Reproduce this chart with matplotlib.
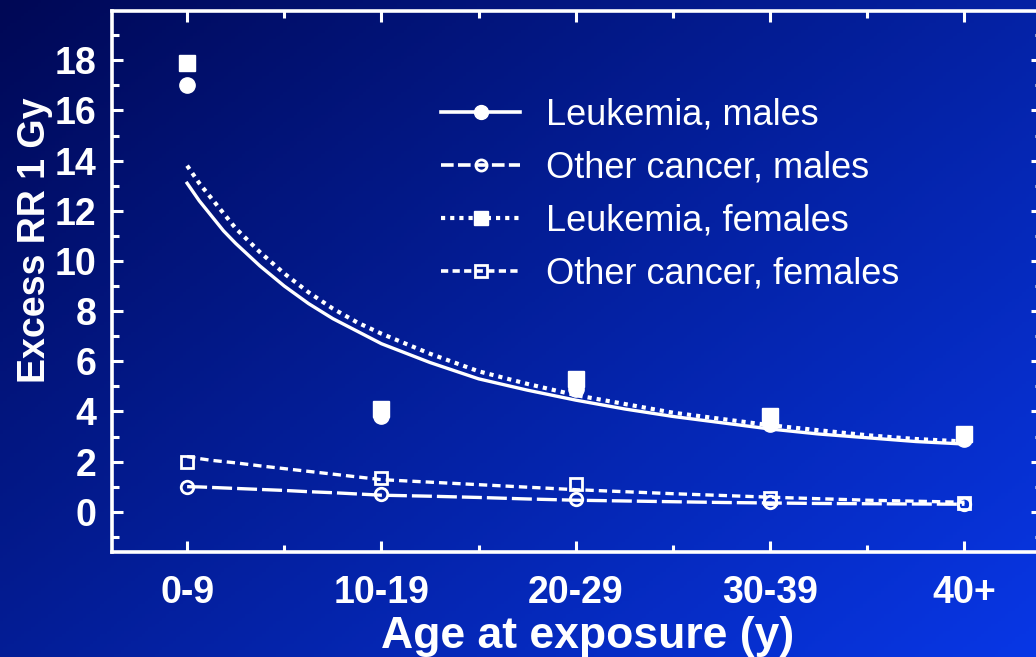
import numpy as np
import matplotlib
matplotlib.use("Agg")
from matplotlib import pyplot as plt
from matplotlib.lines import Line2D
from matplotlib.ticker import MultipleLocator

# categories and values
age_groups = ['0-9', '10-19', '20-29', '30-39', '40+']
obs_x = [0, 1, 2, 3, 4]

# observed points
leuk_m_obs = [17.0, 3.8, 4.9, 3.5, 2.9]
leuk_f_obs = [17.9, 4.1, 5.3, 3.8, 3.1]
other_m_obs = [1.0, 0.7, 0.5, 0.4, 0.3]
other_f_obs = [2.0, 1.35, 1.1, 0.55, 0.35]

# fitted curves, read at these positions
curve_x = [0, 0.0625, 0.125, 0.1875, 0.25, 0.375, 0.5, 0.625, 0.75, 0.875, 1,
           1.25, 1.5, 1.75, 2, 2.25, 2.5, 2.75, 3, 3.25, 3.5, 3.75, 4]
leuk_m_fit = [13.1, 12.4, 11.8, 11.2, 10.7, 9.8, 9.0, 8.3, 7.7, 7.2, 6.7,
              5.95, 5.3, 4.85, 4.45, 4.1, 3.8, 3.55, 3.3, 3.1, 2.95, 2.8, 2.7]
leuk_f_fit = [13.8, 13.1, 12.5, 11.9, 11.3, 10.35, 9.5, 8.75, 8.1, 7.55, 7.1,
              6.3, 5.6, 5.1, 4.65, 4.3, 3.95, 3.7, 3.45, 3.25, 3.05, 2.9, 2.8]
other_m_fit = [1.0, 0.99, 0.97, 0.95, 0.93, 0.89, 0.85, 0.8, 0.76, 0.71, 0.66,
               0.62, 0.57, 0.51, 0.46, 0.43, 0.4, 0.37, 0.35, 0.33, 0.32, 0.31, 0.3]
other_f_fit = [2.2, 2.12, 2.05, 2.0, 1.95, 1.83, 1.72, 1.61, 1.5, 1.39, 1.28,
               1.18, 1.08, 0.98, 0.88, 0.8, 0.72, 0.65, 0.58, 0.52, 0.46, 0.42, 0.38]

labels = ['Leukemia, males', 'Other cancer, males',
          'Leukemia, females', 'Other cancer, females']

W = 'white'
fig = plt.figure(figsize=(10.36, 6.57), dpi=100)

# blue gradient background
bg = fig.add_axes([0, 0, 1, 1], zorder=-10)
gx, gy = np.meshgrid(np.linspace(0, 1, 300), np.linspace(0, 1, 200))
t = (gx * 0.55 + gy * 0.45)
c0 = np.array([0, 8, 85]) / 255
c1 = np.array([8, 55, 230]) / 255
img = c0[None, None, :] + (c1 - c0)[None, None, :] * t[:, :, None]
bg.imshow(img, aspect='auto', extent=[0, 1, 1, 0])
bg.axis('off')

ax = fig.add_axes([0.108, 0.160, 0.898, 0.823])
ax.patch.set_alpha(0)

# fitted lines
ax.plot(curve_x, leuk_m_fit, color=W, lw=2.4, ls='-')
ax.plot(curve_x, leuk_f_fit, color=W, lw=3, ls=(0, (1, 1.2)))
ax.plot(curve_x, other_m_fit, color=W, lw=2.4, ls=(0, (6, 1.5)))
ax.plot(curve_x, other_f_fit, color=W, lw=2.4, ls=(0, (2.5, 1.5)))

# observed points
ax.plot(obs_x, leuk_f_obs, 's', color=W, ms=11, ls='none')
ax.plot(obs_x, leuk_m_obs, 'o', color=W, ms=11, ls='none')
ax.plot(obs_x, other_f_obs, 's', mfc='none', mec=W, mew=2, ms=9, ls='none')
ax.plot(obs_x, other_m_obs, 'o', mfc='none', mec=W, mew=2, ms=9, ls='none')

ax.set_xlim(-0.387, 4.4)
ax.set_ylim(-1.6, 19.96)
ax.set_xticks(obs_x)
ax.set_xticklabels(age_groups)
ax.set_yticks(range(0, 19, 2))
ax.xaxis.set_minor_locator(MultipleLocator(0.5))
ax.yaxis.set_minor_locator(MultipleLocator(1))

for s in ax.spines.values():
    s.set_color(W)
    s.set_linewidth(2.6)
ax.tick_params(which='both', direction='in', colors=W, width=2.2,
               top=True, right=True)
ax.tick_params(which='major', length=8)
ax.tick_params(which='minor', length=5)
ax.tick_params(axis='y', which='major', pad=11)
ax.tick_params(axis='x', which='major', pad=17)
for lab in ax.get_xticklabels() + ax.get_yticklabels():
    lab.set_fontfamily('Liberation Sans')
    lab.set_fontweight('bold')
    lab.set_fontsize(27)
    lab.set_color(W)

fig.text(0.034, 0.635, 'Excess RR 1 Gy', rotation=90, ha='center', va='center',
         color=W, fontsize=27, fontweight='bold', family='Liberation Sans')
fig.text(0.567, 0.031, 'Age at exposure (y)', ha='center', va='center',
         color=W, fontsize=32, fontweight='bold', family='Liberation Sans')

handles = [
    Line2D([], [], color=W, lw=2.6, ls='-', marker='o', ms=10),
    Line2D([], [], color=W, lw=2.6, ls=(0, (3.5, 1.2)), marker='o', ms=8,
           mfc='none', mew=2),
    Line2D([], [], color=W, lw=3, ls=(0, (1, 1.2)), marker='s', ms=10),
    Line2D([], [], color=W, lw=2.6, ls=(0, (2, 1.2)), marker='s', ms=8,
           mfc='none', mew=2),
]
leg = ax.legend(handles, labels, loc='upper left', bbox_to_anchor=(0.338, 0.867),
                frameon=False, handlelength=2.2, handletextpad=0.72,
                labelspacing=0.5, borderaxespad=0,
                prop={'family': 'Liberation Sans', 'size': 26})
for txt in leg.get_texts():
    txt.set_color(W)

fig.savefig('out.png', dpi=100)
